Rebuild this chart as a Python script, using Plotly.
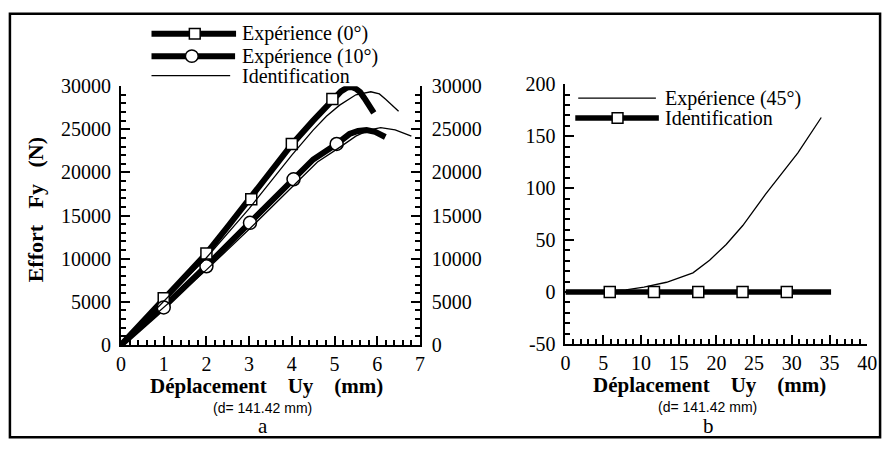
import plotly.graph_objects as go

W, H = 895, 452

# ---------------- data ----------------
# Panel a : Effort Fy (N) vs Deplacement Uy (mm)
exp0_x = [0, 0.5, 1, 1.5, 2, 2.5, 3, 3.5, 4, 4.5, 4.95, 5.15, 5.3, 5.4, 5.5, 5.6, 5.7, 5.8, 5.88, 5.92]
exp0_y = [0, 2650, 5350, 7950, 10600, 13700, 16900, 20100, 23250, 26000, 28500, 29400, 29850, 29900,
          29700, 29300, 28600, 27900, 27300, 26900]
exp0_mx = [1, 2, 3.05, 4, 4.95]
exp0_my = [5400, 10600, 16900, 23300, 28500]

exp10_x = [0, 1, 2, 3, 4, 4.5, 5.05, 5.35, 5.55, 5.75, 5.95, 6.05, 6.19]
exp10_y = [0, 4400, 9150, 14150, 19200, 21500, 23300, 24450, 24800, 24900, 24700, 24500, 24100]
exp10_mx = [1, 2, 3.02, 4.04, 5.05]
exp10_my = [4350, 9120, 14150, 19200, 23300]

id0_x = [0, 1, 2, 3, 4, 4.5, 4.81, 5.12, 5.5, 5.85, 6.05, 6.19, 6.35, 6.5]
id0_y = [0, 5000, 10100, 15800, 22000, 24900, 26500, 27800, 29000, 29350, 29100, 28500, 27800, 27100]

id10_x = [0, 1, 2, 3, 4, 4.6, 5.12, 5.5, 5.8, 6.08, 6.42, 6.8]
id10_y = [0, 4300, 8700, 13400, 18300, 21200, 22900, 24200, 24900, 25200, 24930, 24200]

a_xtick_step = 1
a_ytick_step = 5000

# Panel b
exp45_x = [0, 4, 8, 10.4, 13.4, 16.9, 19.1, 21.3, 23.5, 26.5, 30.8, 33.9]
exp45_y = [0, 0.5, 2, 4.8, 9.4, 18.5, 30.6, 45.8, 64, 94, 134, 168]
id45_x = [0, 5.87, 11.73, 17.6, 23.47, 29.33, 35.2]
id45_y = [0, 0, 0, 0, 0, 0, 0]
id45_mx = [5.87, 11.73, 17.6, 23.47, 29.33]
id45_my = [0, 0, 0, 0, 0]

b_ytick_step = 50
b_xtick_step = 5

SERIF = "Liberation Serif, Times New Roman, Times, serif"
SANS = "Liberation Sans, Arial, Helvetica, sans-serif"


def px(x):
    return x / W


def py(y):
    return 1 - y / H


fig = go.Figure()

thin = dict(color="black", width=1.3)
thick = dict(color="black", width=6)

# panel a
fig.add_trace(go.Scatter(x=id0_x, y=id0_y, mode="lines", line=thin, xaxis="x", yaxis="y2"))
fig.add_trace(go.Scatter(x=id10_x, y=id10_y, mode="lines", line=thin, xaxis="x", yaxis="y2"))
fig.add_trace(go.Scatter(x=exp0_x, y=exp0_y, mode="lines", line=thick, xaxis="x", yaxis="y"))
fig.add_trace(go.Scatter(x=exp10_x, y=exp10_y, mode="lines", line=thick, xaxis="x", yaxis="y"))
fig.add_trace(go.Scatter(x=exp0_mx, y=exp0_my, mode="markers", xaxis="x", yaxis="y",
                         marker=dict(symbol="square", size=11, color="white",
                                     line=dict(color="black", width=1.5))))
fig.add_trace(go.Scatter(x=exp10_mx, y=exp10_my, mode="markers", xaxis="x", yaxis="y",
                         marker=dict(symbol="circle", size=13, color="white",
                                     line=dict(color="black", width=1.5))))

# panel b
fig.add_trace(go.Scatter(x=exp45_x, y=exp45_y, mode="lines", line=thin, xaxis="x3", yaxis="y3"))
fig.add_trace(go.Scatter(x=id45_x, y=id45_y, mode="lines", line=dict(color="black", width=5.5),
                         xaxis="x3", yaxis="y3"))
fig.add_trace(go.Scatter(x=id45_mx, y=id45_my, mode="markers", xaxis="x3", yaxis="y3",
                         marker=dict(symbol="square", size=11, color="white",
                                     line=dict(color="black", width=1.5))))

tickfont = dict(family=SERIF, size=20, color="black")
common = dict(showline=True, linecolor="black", linewidth=1.8, ticks="inside", ticklen=9,
              tickwidth=2, tickcolor="black", showgrid=False, zeroline=False,
              tickfont=tickfont, fixedrange=True, tickmode="linear", tick0=0, tickformat="d")


def minor(step):
    return dict(ticks="inside", ticklen=5, dtick=step, tick0=0, tickcolor="black", tickwidth=1.8,
                showgrid=False)


fig.update_layout(
    width=W, height=H, autosize=False,
    margin=dict(l=0, r=0, t=0, b=0),
    paper_bgcolor="white", plot_bgcolor="white",
    showlegend=False, hovermode=False,
    xaxis=dict(domain=[px(118), px(422)], range=[0, 7], anchor="y", dtick=a_xtick_step,
               minor=minor(0.2), ticklabelstandoff=0, **common),
    yaxis=dict(domain=[py(351), py(79)], range=[0, 30000], anchor="x", dtick=a_ytick_step,
               minor=minor(1000), ticklabelstandoff=4, **common),
    yaxis2=dict(overlaying="y", side="right", range=[0, 30000], anchor="x", dtick=a_ytick_step,
                minor=minor(1000), ticklabelstandoff=6, **common),
    xaxis3=dict(domain=[px(570), px(877)], range=[0, 40], anchor="y3", dtick=b_xtick_step,
                minor=minor(1), ticklabelstandoff=0, **common),
    yaxis3=dict(domain=[py(350), py(77)], range=[-50, 200], anchor="x3", dtick=b_ytick_step,
                minor=minor(10), ticklabelstandoff=4, labelalias={"\u221250": "-50"}, **common),
)

shapes = []
# outer frame
shapes.append(dict(type="rect", xref="paper", yref="paper", x0=px(5), x1=px(890), y0=py(448), y1=py(3),
                   line=dict(color="black", width=2.5), layer="above"))


def hline(x0, x1, y, w):
    shapes.append(dict(type="line", xref="paper", yref="paper", x0=px(x0), x1=px(x1), y0=py(y), y1=py(y),
                       line=dict(color="black", width=w)))


def square(cx, cy, s=5.5):
    shapes.append(dict(type="rect", xref="paper", yref="paper", x0=px(cx - s), x1=px(cx + s),
                       y0=py(cy + s), y1=py(cy - s), fillcolor="white",
                       line=dict(color="black", width=1.5)))


def circle(cx, cy, r=6.5):
    shapes.append(dict(type="circle", xref="paper", yref="paper", x0=px(cx - r), x1=px(cx + r),
                       y0=py(cy + r), y1=py(cy - r), fillcolor="white",
                       line=dict(color="black", width=1.5)))


# legend panel a
hline(149, 235, 24, 6)
square(193, 24)
hline(149, 234, 47.5, 6)
circle(190, 47.5)
hline(149, 229, 68, 1.3)
# legend panel b
hline(583, 662, 91.5, 1.3)
hline(580, 665, 112.5, 5.5)
square(623, 112.5)

fig.update_layout(shapes=shapes)

ann = []


def text(s, x, y, size, family=SERIF, xanchor="left", angle=0):
    ann.append(dict(text=s, x=px(x), y=py(y), xref="paper", yref="paper", showarrow=False,
                    xanchor=xanchor, yanchor="middle", textangle=angle, borderpad=0, borderwidth=0,
                    font=dict(family=family, size=size, color="black")))


NB = "\u00a0"
text("Expérience (0°)", 241, 24, 20)
text("Expérience (10°)", 241, 47.5, 20)
text("Identification", 241, 68, 20)
text("Expérience (45°)", 671, 91.5, 20)
text("Identification", 671, 112.5, 20)

text("<b>Effort" + NB * 3 + "Fy" + NB * 3 + "(N)</b>", 31, 209, 22, xanchor="center", angle=-90)
text("<b>Déplacement" + NB * 4 + "Uy" + NB * 4 + "(mm)</b>", 266, 394, 21, xanchor="center")
text("<b>Déplacement" + NB * 4 + "Uy" + NB * 4 + "(mm)</b>", 717, 393, 21, xanchor="center")
text("(d= 141.42 mm)", 262, 417, 14, family=SANS, xanchor="center")
text("(d= 141.42 mm)", 714, 416, 14, family=SANS, xanchor="center")
text("a", 262, 436, 21, xanchor="center")
text("b", 715, 436, 21, xanchor="center")

fig.update_layout(annotations=ann)

fig.write_html("out.html")
